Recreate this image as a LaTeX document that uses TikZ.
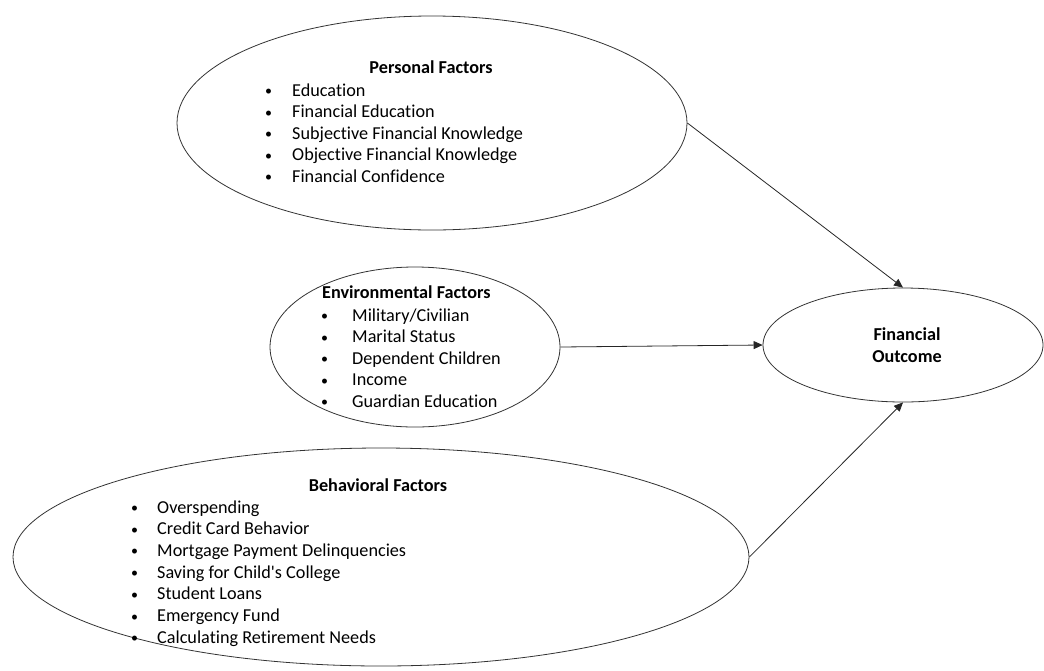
\documentclass[tikz,border=0pt]{standalone}
\usepackage{fontspec}
\setmainfont{Carlito}[Ligatures=NoCommon]
\usetikzlibrary{arrows.meta,shapes.geometric}
\newcommand\dotmark[1]{\makebox[#1][l]{\raisebox{0.5pt}{\fontsize{14}{14}\selectfont\textbullet}}}
\begin{document}
\begin{tikzpicture}[x=1pt,y=-1pt,
  oval/.style={draw=black!80,line width=0.8pt,ellipse,inner sep=0pt},
  heading/.style={font=\fontsize{18.2}{22}\selectfont\bfseries,inner sep=0pt,anchor=base},
  entry/.style={font=\fontsize{18.2}{22}\selectfont,inner sep=0pt,anchor=base west},
  link/.style={draw=black!85,line width=0.8pt,-{Triangle[length=9pt,width=8pt]}}]
\useasboundingbox (0,0) rectangle (1044,670);

% the four ovals
\node[oval,minimum width=510pt,minimum height=214pt] (pers) at (432,123) {};
\node[oval,minimum width=290pt,minimum height=160pt] (env) at (415,347) {};
\node[oval,minimum width=736pt,minimum height=218pt] (beh) at (381,557) {};
\node[oval,minimum width=280pt,minimum height=114pt] (out) at (903,345) {};

% personal factors
\node[heading] (ph) at (431,73) {Personal Factors};
\foreach \t [count=\i] in {Education,Financial Education,Subjective Financial Knowledge,Objective Financial Knowledge,Financial Confidence}
  \node[entry] (p\i) at (265,{96+21.5*(\i-1)}) {\dotmark{27pt}\t};

% environmental factors
\node[heading,anchor=base west] (eh) at (322,298) {Environmental Factors};
\foreach \t [count=\i] in {Military/Civilian,Marital Status,Dependent Children,Income,Guardian Education}
  \node[entry] (e\i) at (321,{321+21.5*(\i-1)}) {\dotmark{31pt}\t};

% behavioral factors
\node[heading] (bh) at (378,491) {Behavioral Factors};
\foreach \t [count=\i] in {Overspending,Credit Card Behavior,Mortgage Payment Delinquencies,Saving for Child\textquotesingle s College,Student Loans,Emergency Fund,Calculating Retirement Needs}
  \node[entry] (b\i) at (131,{513+21.7*(\i-1)}) {\dotmark{26pt}\t};

% outcome
\node[heading] (o1) at (907,340) {Financial};
\node[heading] (o2) at (907,362) {Outcome};

% paths into the outcome
\draw[link] (pers.east) -- (out.north);
\draw[link] (env.east) -- (out.west);
\draw[link] (beh.east) -- (out.south);
\end{tikzpicture}
\end{document}
